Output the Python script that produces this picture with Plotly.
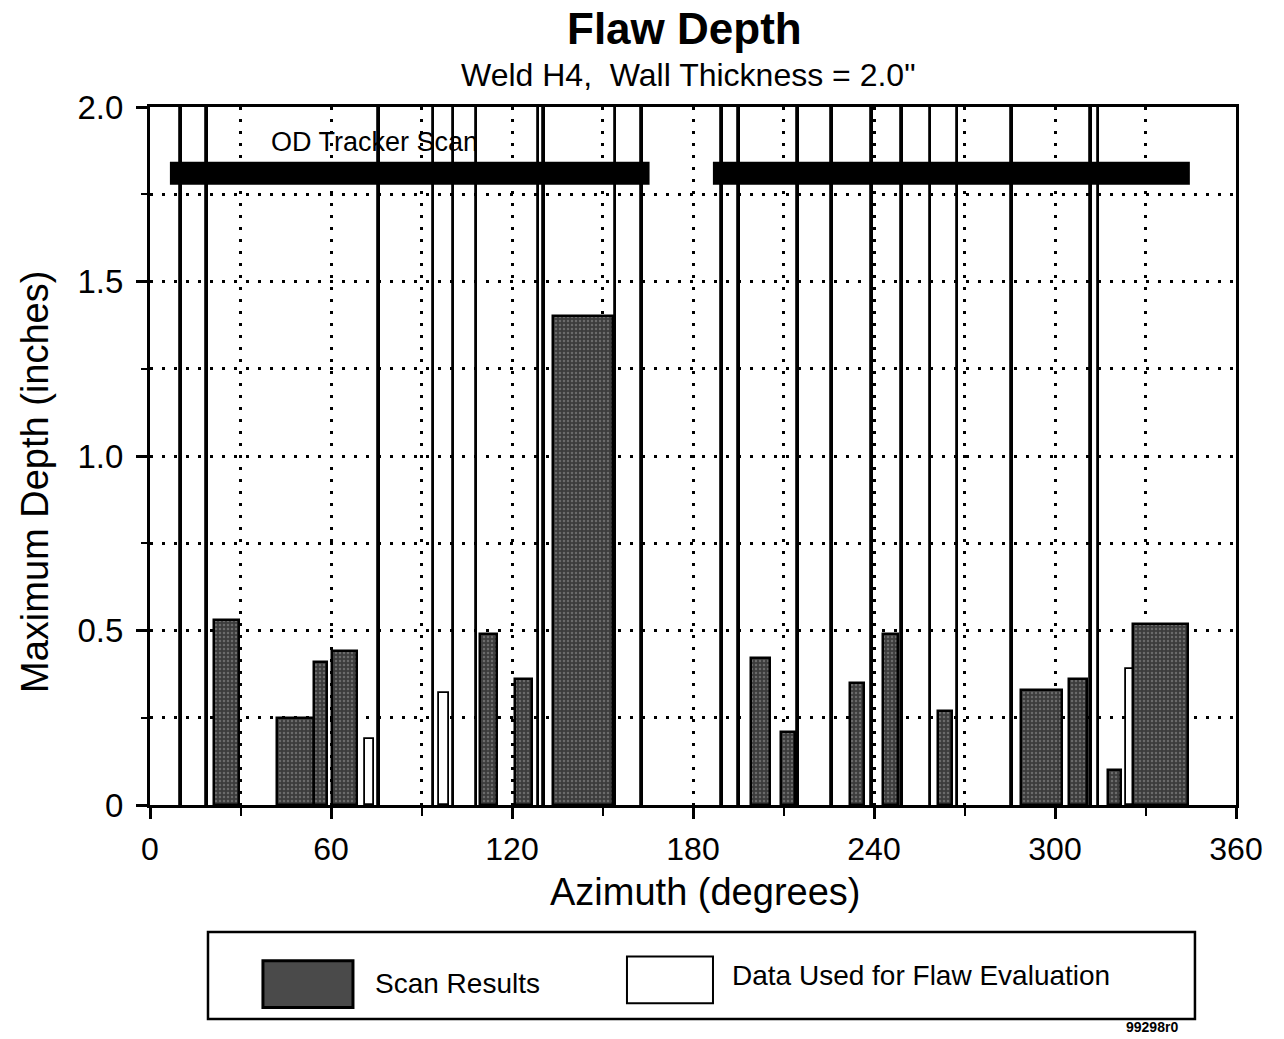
import plotly.graph_objects as go

# ---------------- data ----------------
# Scan results: azimuth centre (deg), azimuthal extent (deg), max depth (in)
scan_az = [25.3, 48.3, 56.6, 64.5, 112.3, 123.8, 143.6, 202.4, 211.5, 234.3,
           245.6, 263.5, 295.4, 307.6, 319.8, 335.0]
scan_span = [8.5, 12.1, 4.3, 8.3, 5.7, 5.6, 19.9, 6.3, 4.8, 4.5,
             5.0, 4.4, 13.6, 5.7, 4.4, 18.2]
scan_depth = [0.53, 0.25, 0.41, 0.44, 0.49, 0.36, 1.40, 0.42, 0.21, 0.35,
              0.49, 0.27, 0.33, 0.36, 0.10, 0.52]

# Data used for flaw evaluation (short white bars)
eval_az = [72.8, 97.5, 326.5]
eval_span = [3.1, 3.5, 6.0]
eval_depth = [0.19, 0.32, 0.39]

# Data used for flaw evaluation reaching the top of the chart (thin bars)
eval_line_az = [10.3, 18.8, 75.8, 94.0, 100.6, 108.2, 128.8, 130.6, 154.3, 163.2,
                189.6, 195.2, 214.9, 226.2, 239.4, 249.4, 258.7, 267.7, 285.8,
                311.9, 314.4]
eval_line_depth = [2.0] * len(eval_line_az)
eval_line_span = [0.6] * len(eval_line_az)

# OD tracker scan coverage
od_start = [6.6, 186.6]
od_end = [165.6, 344.7]
od_level = 1.81

x_tickvals = [0, 60, 120, 180, 240, 300, 360]
x_ticktext = ["0", "60", "120", "180", "240", "300", "360"]
y_tickvals = [0, 0.5, 1.0, 1.5, 2.0]
y_ticktext = ["0", "0.5", "1.0", "1.5", "2.0"]

FONT = "Liberation Sans, Arial, sans-serif"

fig = go.Figure()

# "data used" bars (drawn behind); thin full-height ones render as solid lines
fig.add_trace(go.Bar(
    x=eval_line_az + eval_az,
    y=eval_line_depth + eval_depth,
    width=eval_line_span + eval_span,
    marker=dict(color=["black"] * len(eval_line_az) + ["white"] * len(eval_az),
                line=dict(color="black", width=1.8)),
    name="Data Used for Flaw Evaluation",
    showlegend=False,
))

# scan results
fig.add_trace(go.Bar(
    x=scan_az, y=scan_depth, width=scan_span,
    marker=dict(
        color="#404040",
        line=dict(color="black", width=2.5),
        pattern=dict(shape=".", bgcolor="#3c3c3c", fgcolor="#9a9a9a",
                     size=4, solidity=0.3),
    ),
    name="Scan Results",
    showlegend=False,
))

# OD tracker scan bars
for s, e in zip(od_start, od_end):
    fig.add_trace(go.Scatter(
        x=[s, e], y=[od_level, od_level], mode="lines",
        line=dict(color="black", width=23),
        showlegend=False, hoverinfo="skip",
    ))

grid_common = dict(gridcolor="black", gridwidth=3, griddash="3px,9px")

fig.update_xaxes(
    range=[0, 360],
    tickvals=x_tickvals, ticktext=x_ticktext,
    showgrid=True, **grid_common,
    ticks="outside", ticklen=11, tickwidth=2.5, tickcolor="black",
    minor=dict(dtick=30, tick0=0, showgrid=True, ticks="outside", ticklen=8,
               tickwidth=2, tickcolor="black", **grid_common),
    showline=True, linecolor="black", linewidth=3, mirror=True,
    zeroline=False,
    tickfont=dict(family=FONT, size=32, color="black"),
    ticklabelstandoff=3,
)
fig.update_yaxes(
    range=[0, 2.0],
    tickvals=y_tickvals, ticktext=y_ticktext,
    showgrid=True, **grid_common,
    ticks="outside", ticklen=11, tickwidth=2.5, tickcolor="black",
    minor=dict(dtick=0.25, tick0=0, showgrid=True, ticks="outside", ticklen=6,
               tickwidth=2, tickcolor="black", **grid_common),
    showline=True, linecolor="black", linewidth=3, mirror=True,
    zeroline=False,
    tickfont=dict(family=FONT, size=33, color="black"),
    ticklabelstandoff=6,
)

annotations = [
    dict(text="<b>Flaw Depth</b>", x=0.492, y=1.113, xref="paper", yref="paper",
         showarrow=False, font=dict(family=FONT, size=44, color="black"),
         xanchor="center", yanchor="middle"),
    dict(text="Weld H4,  Wall Thickness = 2.0\"", x=0.496, y=1.046, xref="paper",
         yref="paper", showarrow=False,
         font=dict(family=FONT, size=32, color="black"),
         xanchor="center", yanchor="middle"),
    dict(text="Azimuth (degrees)", x=0.511, y=-0.1246, xref="paper", yref="paper",
         showarrow=False, font=dict(family=FONT, size=38, color="black"),
         xanchor="center", yanchor="middle"),
    dict(text="Maximum Depth (inches)", x=-0.1059, y=0.4628, xref="paper",
         yref="paper", showarrow=False, textangle=-90,
         font=dict(family=FONT, size=38, color="black"),
         xanchor="center", yanchor="middle"),
    dict(text="OD Tracker Scan", x=74.5, y=1.90, xref="x", yref="y",
         showarrow=False, font=dict(family=FONT, size=27, color="black"),
         xanchor="center", yanchor="middle"),
    dict(text="Scan Results", x=0.2053, y=-0.2560, xref="paper", yref="paper",
         showarrow=False, font=dict(family=FONT, size=28, color="black"),
         xanchor="left", yanchor="middle"),
    dict(text="Data Used for Flaw Evaluation", x=0.5341, y=-0.2440, xref="paper",
         yref="paper", showarrow=False,
         font=dict(family=FONT, size=28, color="black"),
         xanchor="left", yanchor="middle"),
    dict(text="<b>99298r0</b>", x=0.9484, y=-0.3180, xref="paper", yref="paper",
         showarrow=False, font=dict(family=FONT, size=14, color="black"),
         xanchor="right", yanchor="middle"),
]

shapes = [
    # legend frame
    dict(type="rect", xref="paper", yref="paper", x0=0.0534, x1=0.9622,
         y0=-0.3065, y1=-0.182, line=dict(color="black", width=2.5),
         fillcolor="white", layer="above"),
    # legend swatches
    dict(type="rect", xref="paper", yref="paper", x0=0.104, x1=0.1869,
         y0=-0.2900, y1=-0.2230, line=dict(color="black", width=3),
         fillcolor="#4a4a4a", layer="above"),
    dict(type="rect", xref="paper", yref="paper", x0=0.4392, x1=0.5184,
         y0=-0.2840, y1=-0.2170, line=dict(color="black", width=2),
         fillcolor="white", layer="above"),
]

fig.update_layout(
    width=1284, height=1039,
    margin=dict(l=150, r=48, t=107, b=234, pad=0),
    paper_bgcolor="white", plot_bgcolor="white",
    barmode="overlay", bargap=0,
    showlegend=False,
    annotations=annotations, shapes=shapes,
    font=dict(family=FONT, color="black"),
)

fig.write_html("out.html", config={"displayModeBar": False},
               post_script="document.body.style.margin='0';")
